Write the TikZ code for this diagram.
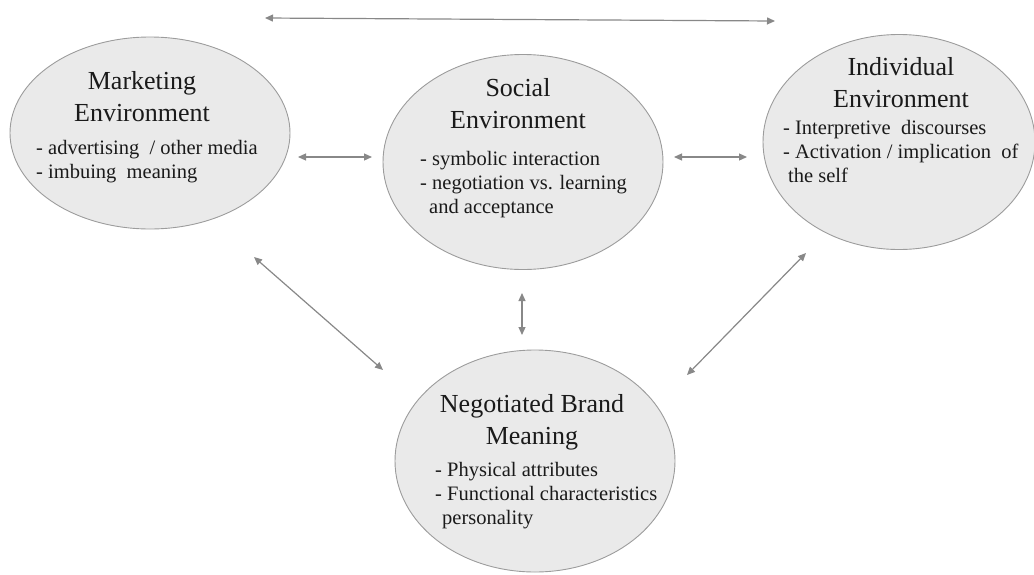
\documentclass[tikz,border=0pt]{standalone}
\usepackage{fontspec}
\setmainfont{Liberation Serif}
\usetikzlibrary{shapes.geometric,arrows.meta}

\definecolor{ovalfill}{HTML}{EAEAEA}
\definecolor{ovalline}{HTML}{9C9C9C}
\definecolor{linkgray}{HTML}{888888}
\definecolor{inktext}{HTML}{1A1A1A}

\tikzset{
  oval/.style={ellipse, draw=ovalline, line width=0.9pt, fill=ovalfill, inner sep=0pt},
  heading/.style={anchor=north, inner sep=0pt, align=center, text=inktext,
    font=\fontsize{26}{32}\selectfont},
  points/.style={anchor=north west, inner sep=0pt, align=left, text=inktext,
    font=\fontsize{20.5}{24}\selectfont},
  link/.style={draw=linkgray, line width=1.2pt,
    {Triangle[length=8pt,width=7pt]}-{Triangle[length=8pt,width=7pt]}}
}

\begin{document}
\begin{tikzpicture}[x=1pt,y=-1pt]
  \useasboundingbox (0,0) rectangle (1034,574);

  % the four environments
  \node[oval, minimum width=280pt, minimum height=192pt] (mkt) at (150,133) {};
  \node[oval, minimum width=280pt, minimum height=215pt] (soc) at (523,162) {};
  \node[oval, minimum width=272pt, minimum height=215pt] (ind) at (899,142) {};
  \node[oval, minimum width=280pt, minimum height=222pt] (neg) at (535,461) {};

  % headings
  \node[heading] (mktH) at (142,71) {Marketing\\Environment};
  \node[heading] (socH) at (518,78) {Social\\Environment};
  \node[heading] (indH) at (901,57) {Individual\\Environment};
  \node[heading] (negH) at (532,394) {Negotiated Brand\\Meaning};

  % bullet texts
  \node[points] (mktP) at (36,140) {- advertising\ \ / other media\\- imbuing\ \ meaning};
  \node[points] (socP) at (420,151) {- symbolic interaction\\- negotiation vs. learning\\\hspace*{9pt}and acceptance};
  \node[points] (indP) at (783,120) {- Interpretive\ \ discourses\\- Activation / implication\ \ of\\\hspace*{5pt}the self};
  \node[points] (negP) at (435,462) {- Physical attributes\\- Functional characteristics\\\hspace*{7pt}personality};

  % connector end points
  \coordinate (topL) at (265,18);  \coordinate (topR) at (775,21);
  \coordinate (msL)  at (298,157); \coordinate (msR)  at (372,157);
  \coordinate (siL)  at (674,157); \coordinate (siR)  at (747,157);
  \coordinate (mnA)  at (254,257); \coordinate (mnB)  at (383,370);
  \coordinate (snA)  at (522,293); \coordinate (snB)  at (522,335);
  \coordinate (inA)  at (806,253); \coordinate (inB)  at (687,375);

  \draw[link] (topL) -- (topR);
  \draw[link] (msL) -- (msR);
  \draw[link] (siL) -- (siR);
  \draw[link] (mnA) -- (mnB);
  \draw[link] (snA) -- (snB);
  \draw[link] (inA) -- (inB);
\end{tikzpicture}
\end{document}
